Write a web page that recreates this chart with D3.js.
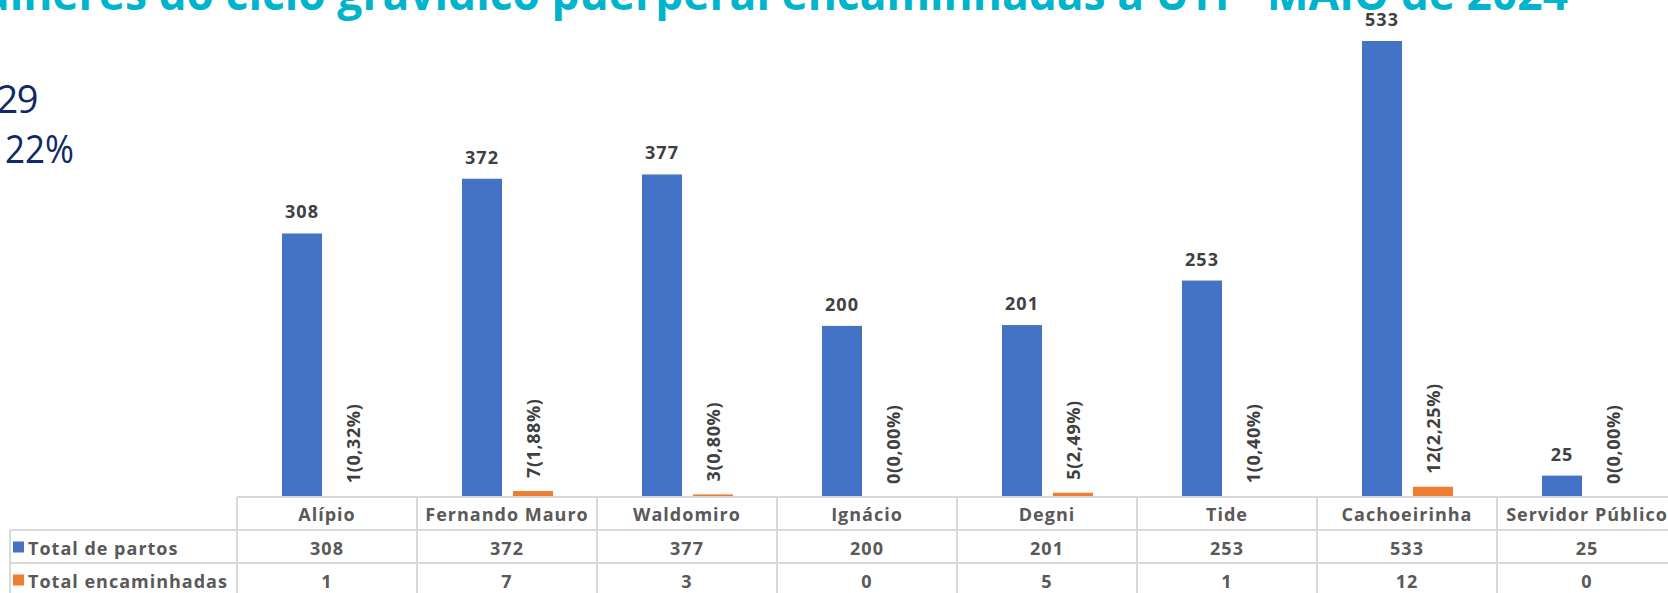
<!DOCTYPE html>
<html>
<head>
<meta charset="utf-8">
<script src="https://cdn.jsdelivr.net/npm/d3@7"></script>
<style>
  html, body { margin: 0; padding: 0; background: #fff; overflow: hidden; }
  svg { display: block; }
</style>
</head>
<body>
<svg id="chart" width="1668" height="593"></svg>
<script>
// Partos por maternidade e gestantes/puérperas encaminhadas à UTI — maio de 2024
const categories = ["Alípio", "Fernando Mauro", "Waldomiro", "Ignácio", "Degni", "Tide", "Cachoeirinha", "Servidor Público"];
const totalPartos = [308, 372, 377, 200, 201, 253, 533, 25];
const totalEncaminhadas = [1, 7, 3, 0, 5, 1, 12, 0];
const seriesNames = ["Total de partos", "Total encaminhadas"];
const seriesColors = ["#4472C4", "#ED7D31"];
const titleLead = "Mulheres ";
const titleRest = "do ciclo gravídico puerperal encaminhadas à UTI - MAIO de 2024";
const sideTexts = ["29", "22%"];

const svg = d3.select("#chart");
const FONT = "'Open Sans', sans-serif";

const rows = categories.map((c, i) => ({
  cat: c,
  partos: totalPartos[i],
  enc: totalEncaminhadas[i]
}));

// Scales
const x = d3.scaleBand().domain(categories).range([237, 1677]).paddingInner(0).paddingOuter(0);
const xs = d3.scaleBand().domain(["partos", "enc"]).range([45, 136]).paddingInner(11 / 51);
const baseY = 497;
const y = d3.scaleLinear().domain([0, d3.max(totalPartos)]).range([baseY, 41]);

// Title: runs past the left edge; the "do ciclo ..." part spans 147 → 1568
const titleStyle = t => t.attr("font-family", FONT).attr("font-weight", 700)
  .attr("font-size", 46).attr("fill", "#00B4CC");
const probe = svg.append("text").call(titleStyle).text(titleLead);
const leadW = probe.node().getComputedTextLength();
probe.text(titleLead + titleRest);
const fullW = probe.node().getComputedTextLength();
probe.remove();
const sx = (1568 - 147) / (fullW - leadW);
svg.append("text").call(titleStyle)
  .attr("x", 147 - leadW * sx).attr("y", 10)
  .attr("textLength", fullW * sx).attr("lengthAdjust", "spacingAndGlyphs")
  .text(titleLead + titleRest);

// Side figures
svg.append("text").attr("x", 37).attr("y", 113).attr("text-anchor", "end")
  .attr("font-family", FONT).attr("font-size", 38).attr("fill", "#0F2A67")
  .attr("letter-spacing", -1.5)
  .text(sideTexts[0]);
svg.append("text").attr("x", 5).attr("y", 163).attr("text-anchor", "start")
  .attr("font-family", FONT).attr("font-size", 38).attr("fill", "#0F2A67")
  .attr("textLength", 69).attr("lengthAdjust", "spacingAndGlyphs")
  .text(sideTexts[1]);

// Bars
const groups = svg.append("g").selectAll("g").data(rows).join("g")
  .attr("transform", d => `translate(${x(d.cat)},0)`);

groups.append("rect")
  .attr("x", xs("partos")).attr("width", xs.bandwidth())
  .attr("y", d => y(d.partos)).attr("height", d => baseY - y(d.partos))
  .attr("fill", seriesColors[0]);

groups.append("rect")
  .attr("x", xs("enc")).attr("width", xs.bandwidth())
  .attr("y", d => y(d.enc)).attr("height", d => baseY - y(d.enc))
  .attr("fill", seriesColors[1]);

// Value labels: totals above the blue bars
groups.append("text")
  .attr("x", xs("partos") + xs.bandwidth() / 2)
  .attr("y", d => y(d.partos) - 15)
  .attr("text-anchor", "middle")
  .attr("font-family", FONT).attr("font-weight", 700).attr("font-size", 18)
  .attr("letter-spacing", 1)
  .attr("fill", "#404040")
  .text(d => d.partos);

// Rotated labels: count and share of births above the orange bars
const pct = d => (d.partos ? d.enc / d.partos * 100 : 0).toFixed(2).replace(".", ",");
groups.append("text")
  .attr("transform", d => `translate(${xs("enc") + xs.bandwidth() / 2},${y(d.enc) - 13}) rotate(-90)`)
  .attr("dominant-baseline", "central")
  .attr("text-anchor", "start")
  .attr("font-family", FONT).attr("font-weight", 700).attr("font-size", 18)
  .attr("letter-spacing", 0.6)
  .attr("fill", "#404040")
  .text(d => `${d.enc}(${pct(d)}%)`);

// Data table below the plot
const rowTop = [497, 530, 563, 596];
const gridColor = "#D9D9D9";
const table = svg.append("g");

// horizontal grid lines
table.append("line").attr("x1", x.range()[0]).attr("x2", x.range()[1])
  .attr("y1", rowTop[0]).attr("y2", rowTop[0]).attr("stroke", gridColor).attr("stroke-width", 2);
[rowTop[1], rowTop[2], rowTop[3]].forEach(yy => {
  table.append("line").attr("x1", 10).attr("x2", x.range()[1])
    .attr("y1", yy).attr("y2", yy).attr("stroke", gridColor).attr("stroke-width", 2);
});
// vertical grid lines
categories.concat([null]).forEach(c => {
  const xx = c ? x(c) : x.range()[1];
  table.append("line").attr("x1", xx).attr("x2", xx)
    .attr("y1", rowTop[0]).attr("y2", rowTop[3]).attr("stroke", gridColor).attr("stroke-width", 2);
});
table.append("line").attr("x1", 10).attr("x2", 10)
  .attr("y1", rowTop[1]).attr("y2", rowTop[3]).attr("stroke", gridColor).attr("stroke-width", 2);

const cellText = (g, xx, yy, t, anchor) => g.append("text")
  .attr("x", xx).attr("y", yy)
  .attr("text-anchor", anchor || "middle").attr("dominant-baseline", "central")
  .attr("font-family", FONT).attr("font-weight", 700).attr("font-size", 18)
  .attr("letter-spacing", 1)
  .attr("fill", "#595959").text(t);

rows.forEach(d => {
  const cx = x(d.cat) + x.bandwidth() / 2;
  cellText(table, cx, (rowTop[0] + rowTop[1]) / 2, d.cat);
  cellText(table, cx, (rowTop[1] + rowTop[2]) / 2 + 1, d.partos);
  cellText(table, cx, (rowTop[2] + rowTop[3]) / 2 + 1, d.enc);
});

// Legend keys in the row headers
seriesNames.forEach((name, i) => {
  const mid = (rowTop[i + 1] + rowTop[i + 2]) / 2;
  table.append("rect").attr("x", 13).attr("y", mid - 5).attr("width", 11).attr("height", 11)
    .attr("fill", seriesColors[i]);
  cellText(table, 28, mid + 1, name, "start");
});
</script>
</body>
</html>
